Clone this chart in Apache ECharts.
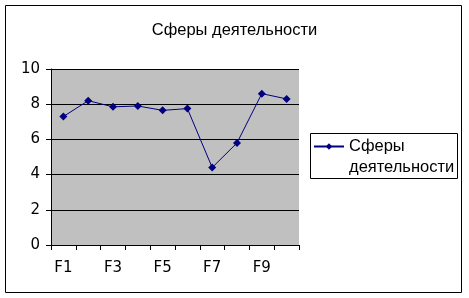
<!DOCTYPE html>
<html><head><meta charset="utf-8">
<script src="https://cdn.jsdelivr.net/npm/echarts@6/dist/echarts.min.js"></script>
<style>html,body{margin:0;padding:0;background:#fff}#c{width:469px;height:298px}</style>
</head><body><div id="c"></div>
<script>
const categories = ['F1','F2','F3','F4','F5','F6','F7','F8','F9','F10'];
const values = [7.3, 8.2, 7.85, 7.9, 7.65, 7.75, 4.4, 5.8, 8.6, 8.3];
const seriesName = 'Сферы деятельности';
const titleText = 'Сферы деятельности';

const chart = echarts.init(document.getElementById('c'));
chart.setOption({
  animation: false,
  backgroundColor: '#fff',
  title: {
    text: titleText, left: 'center', top: 17,
    textStyle: {fontFamily: 'Liberation Sans', fontSize: 16.5, fontWeight: 'normal', color: '#000'}
  },
  graphic: [{
    type: 'rect', shape: {x: 5.5, y: 5.5, width: 456, height: 287},
    style: {fill: 'none', stroke: '#000', lineWidth: 1}, z: -1
  }, {
    type: 'rect', shape: {x: 310.5, y: 133.5, width: 147, height: 45},
    style: {fill: 'none', stroke: '#000', lineWidth: 1}, z: -1
  }],
  legend: {
    left: 313, top: 115, orient: 'vertical',
    borderWidth: 0, padding: 0,
    itemWidth: 30, itemHeight: 8, itemGap: 0,
    formatter: function(n){ return ' \nСферы\nдеятельности'; },
    textStyle: {fontFamily: 'Liberation Sans', fontSize: 16.5, color: '#000', lineHeight: 21},
    data: [{name: seriesName}]
  },
  grid: {
    left: 51, top: 69, width: 248, height: 176,
    show: true, backgroundColor: '#c0c0c0', borderWidth: 0
  },
  xAxis: {
    type: 'category', data: categories, boundaryGap: true,
    axisLine: {lineStyle: {color: '#000', width: 1}},
    axisTick: {show: true, interval: 0, length: 5, lineStyle: {color: '#000'}},
    axisLabel: {interval: 1, color: '#000', fontFamily: 'DejaVu Sans', fontSize: 15, margin: 16},
    splitLine: {show: false}
  },
  yAxis: {
    type: 'value', min: 0, max: 10, interval: 2,
    axisLine: {show: true, lineStyle: {color: '#000', width: 1}},
    axisTick: {show: true, length: 5, lineStyle: {color: '#000'}},
    axisLabel: {color: '#000', fontFamily: 'DejaVu Sans', fontSize: 15, margin: 11},
    splitLine: {show: true, lineStyle: {color: '#000', width: 1}}
  },
  series: [{
    name: seriesName, type: 'line', data: values,
    symbol: 'diamond', symbolSize: 8,
    lineStyle: {color: '#000080', width: 1},
    itemStyle: {color: '#000080'}
  }]
});
</script></body></html>
